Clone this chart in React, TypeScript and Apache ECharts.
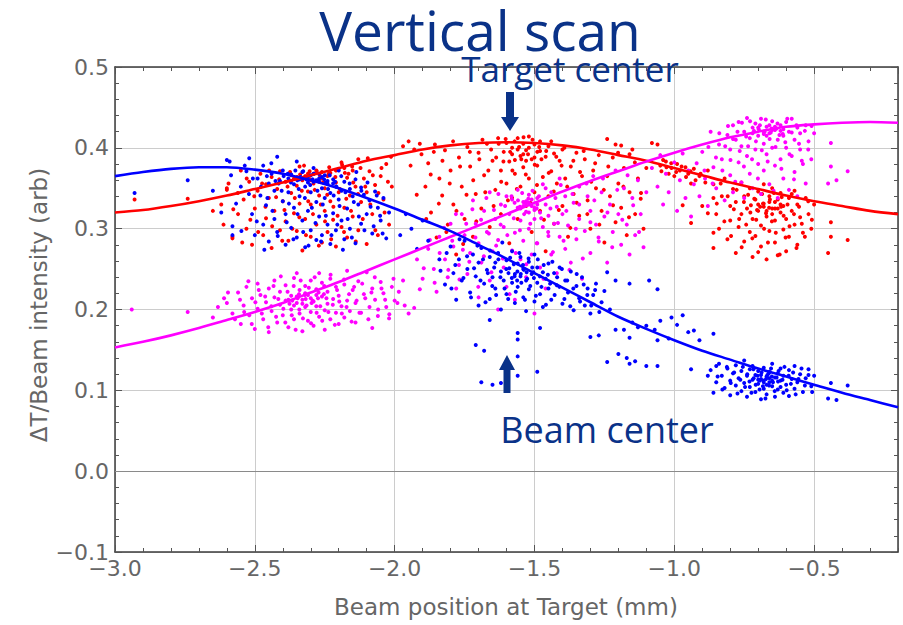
import React, { useEffect, useRef } from "react";
import * as echarts from "echarts";

const X_MIN = -3.0;
const X_MAX = -0.2;
const Y_MIN = -0.1;
const Y_MAX = 0.5;

// Fitted curves, read at every 0.1 mm
const fitX = [
  -3.0, -2.9, -2.8, -2.7, -2.6, -2.5, -2.4, -2.3, -2.2, -2.1, -2.0, -1.9, -1.8, -1.7, -1.6,
  -1.5, -1.4, -1.3, -1.2, -1.1, -1.0, -0.9, -0.8, -0.7, -0.6, -0.5, -0.4, -0.3, -0.2,
];
const redFit = [
  0.320, 0.323, 0.328, 0.334, 0.341, 0.349, 0.357, 0.366, 0.375, 0.384, 0.391, 0.398, 0.403, 0.406, 0.407,
  0.406, 0.403, 0.398, 0.391, 0.384, 0.375, 0.366, 0.357, 0.349, 0.341, 0.334, 0.328, 0.322, 0.318,
];
const blueFit = [
  0.365, 0.370, 0.374, 0.376, 0.376, 0.373, 0.368, 0.360, 0.350, 0.338, 0.325, 0.311, 0.297, 0.280, 0.263,
  0.245, 0.227, 0.209, 0.191, 0.176, 0.162, 0.149, 0.138, 0.127, 0.117, 0.107, 0.097, 0.088, 0.079,
];
const magentaFit = [
  0.153, 0.160, 0.168, 0.177, 0.187, 0.197, 0.208, 0.221, 0.234, 0.248, 0.262, 0.276, 0.290, 0.304, 0.318,
  0.332, 0.346, 0.359, 0.371, 0.383, 0.394, 0.404, 0.413, 0.420, 0.426, 0.429, 0.431, 0.432, 0.431,
];

const blueLeft = [
  [-2.93, 0.344], [-2.74, 0.360], [-2.65, 0.347], [-2.62, 0.320], [-2.58, 0.303], [-2.58, 0.292],
  [-2.60, 0.385], [-2.59, 0.383], [-2.52, 0.387], [-2.55, 0.352], [-2.53, 0.371], [-2.51, 0.318], [-2.50, 0.292],
  [-2.49, 0.362], [-2.48, 0.341], [-2.47, 0.378], [-2.47, 0.305], [-2.46, 0.329], [-2.45, 0.356], [-2.45, 0.284],
  [-2.44, 0.368], [-2.43, 0.312], [-2.43, 0.347], [-2.42, 0.389], [-2.42, 0.296], [-2.41, 0.359], [-2.40, 0.334],
  [-2.40, 0.372], [-2.39, 0.280], [-2.39, 0.318], [-2.38, 0.362], [-2.38, 0.345], [-2.37, 0.301], [-2.37, 0.367],
  [-2.36, 0.326], [-2.36, 0.355], [-2.35, 0.383], [-2.35, 0.289], [-2.34, 0.361], [-2.34, 0.340], [-2.33, 0.310],
  [-2.33, 0.370], [-2.32, 0.352], [-2.32, 0.277], [-2.31, 0.364], [-2.31, 0.322], [-2.30, 0.345], [-2.30, 0.298],
  [-2.29, 0.358], [-2.29, 0.375], [-2.28, 0.333], [-2.28, 0.286], [-2.27, 0.362], [-2.27, 0.315], [-2.26, 0.350],
  [-2.26, 0.292], [-2.25, 0.366], [-2.25, 0.338], [-2.24, 0.305], [-2.24, 0.356], [-2.23, 0.281], [-2.23, 0.344],
  [-2.22, 0.361], [-2.22, 0.319], [-2.21, 0.298], [-2.21, 0.352], [-2.20, 0.336], [-2.20, 0.372], [-2.19, 0.310],
  [-2.19, 0.347], [-2.18, 0.287], [-2.18, 0.358], [-2.17, 0.325], [-2.16, 0.349], [-2.16, 0.300], [-2.15, 0.340],
  [-2.14, 0.361], [-2.14, 0.282], [-2.13, 0.330], [-2.12, 0.351], [-2.12, 0.306], [-2.11, 0.342], [-2.10, 0.318],
  [-2.09, 0.335], [-2.08, 0.294], [-2.07, 0.346], [-2.06, 0.326], [-2.05, 0.310], [-2.04, 0.338], [-2.03, 0.288],
  [-2.02, 0.320], [-2.33, 0.362], [-2.30, 0.366], [-2.28, 0.360], [-2.26, 0.364], [-2.24, 0.359], [-2.31, 0.357],
  [-2.27, 0.368], [-2.22, 0.356], [-1.98, 0.292], [-1.96, 0.318], [-1.94, 0.300], [-1.92, 0.275], [-1.90, 0.310],
  [-1.88, 0.285],
];
const blueLeft2 = [
  [-2.585, 0.366], [-2.567, 0.331], [-2.548, 0.297], [-2.536, 0.378], [-2.521, 0.343], [-2.507, 0.362], [-2.493, 0.309],
  [-2.478, 0.352], [-2.466, 0.274], [-2.455, 0.338], [-2.441, 0.381], [-2.437, 0.322], [-2.426, 0.359], [-2.418, 0.291],
  [-2.404, 0.347], [-2.397, 0.365], [-2.386, 0.308], [-2.378, 0.331], [-2.371, 0.357], [-2.362, 0.287], [-2.355, 0.372],
  [-2.347, 0.318], [-2.343, 0.349], [-2.336, 0.364], [-2.327, 0.296], [-2.321, 0.338], [-2.316, 0.361], [-2.308, 0.279],
  [-2.302, 0.354], [-2.296, 0.326], [-2.289, 0.368], [-2.283, 0.307], [-2.276, 0.347], [-2.271, 0.359], [-2.263, 0.284],
  [-2.257, 0.330], [-2.252, 0.361], [-2.246, 0.316], [-2.238, 0.349], [-2.232, 0.366], [-2.226, 0.292], [-2.218, 0.341],
  [-2.213, 0.358], [-2.205, 0.305], [-2.197, 0.328], [-2.191, 0.365], [-2.185, 0.274], [-2.176, 0.345], [-2.168, 0.312],
  [-2.161, 0.356], [-2.153, 0.289], [-2.146, 0.333], [-2.137, 0.370], [-2.128, 0.315], [-2.119, 0.347], [-2.108, 0.298],
  [-2.097, 0.357], [-2.086, 0.327], [-2.075, 0.303], [-2.064, 0.341], [-2.052, 0.316], [-2.043, 0.294], [-2.457, 0.365],
  [-2.382, 0.368], [-2.348, 0.360], [-2.293, 0.361], [-2.247, 0.357], [-2.208, 0.352], [-2.415, 0.356], [-2.327, 0.371],
];
const blueMid = [
  [-1.84, 0.262], [-1.82, 0.231], [-1.80, 0.278], [-1.79, 0.245], [-1.78, 0.212], [-1.77, 0.262], [-1.76, 0.236],
  [-1.75, 0.285], [-1.74, 0.250], [-1.73, 0.221], [-1.72, 0.268], [-1.71, 0.241], [-1.70, 0.205], [-1.70, 0.258],
  [-1.69, 0.276], [-1.68, 0.232], [-1.67, 0.249], [-1.66, 0.265], [-1.66, 0.213], [-1.65, 0.240], [-1.64, 0.258],
  [-1.64, 0.226], [-1.63, 0.270], [-1.62, 0.247], [-1.62, 0.200], [-1.61, 0.236], [-1.60, 0.261], [-1.60, 0.219],
  [-1.59, 0.251], [-1.58, 0.233], [-1.58, 0.272], [-1.57, 0.244], [-1.57, 0.208], [-1.56, 0.257], [-1.56, 0.228],
  [-1.55, 0.241], [-1.55, 0.265], [-1.54, 0.215], [-1.54, 0.250], [-1.53, 0.236], [-1.53, 0.198], [-1.52, 0.259],
  [-1.52, 0.225], [-1.51, 0.244], [-1.50, 0.210], [-1.50, 0.268], [-1.49, 0.233], [-1.49, 0.252], [-1.48, 0.219],
  [-1.47, 0.246], [-1.47, 0.203], [-1.46, 0.238], [-1.45, 0.257], [-1.45, 0.226], [-1.44, 0.212], [-1.43, 0.245],
  [-1.42, 0.230], [-1.41, 0.252], [-1.40, 0.207], [-1.39, 0.236], [-1.38, 0.221], [-1.37, 0.247], [-1.36, 0.199],
  [-1.35, 0.229], [-1.34, 0.214], [-1.33, 0.240], [-1.32, 0.205], [-1.31, 0.226], [-1.30, 0.195], [-1.29, 0.218],
  [-1.28, 0.232], [-1.26, 0.209], [-1.25, 0.223], [-1.23, 0.200],
  [-1.71, 0.156], [-1.68, 0.149], [-1.69, 0.110], [-1.65, 0.107], [-1.62, 0.109], [-1.56, 0.163], [-1.56, 0.171],
  [-1.56, 0.142], [-1.56, 0.118], [-1.49, 0.123], [-1.48, 0.177], [-1.66, 0.187],
  [-1.24, 0.246], [-1.21, 0.236], [-1.16, 0.232], [-1.09, 0.236], [-1.06, 0.225], [-1.30, 0.166], [-1.27, 0.168],
  [-1.21, 0.175], [-1.18, 0.175], [-1.15, 0.184], [-1.13, 0.178], [-1.10, 0.180], [-1.07, 0.175], [-1.05, 0.186],
  [-1.02, 0.164], [-1.01, 0.190], [-0.99, 0.181], [-0.97, 0.193], [-0.95, 0.172], [-0.93, 0.174], [-0.91, 0.162],
  [-0.86, 0.170], [-1.24, 0.135], [-1.20, 0.145], [-1.17, 0.140], [-1.16, 0.133], [-1.14, 0.136], [-1.10, 0.130],
  [-1.06, 0.130], [-1.16, 0.165], [-0.94, 0.126], [-0.88, 0.118], [-0.85, 0.130], [-1.06, 0.162],
];
const blueMid2 = [
  [-1.836, 0.248], [-1.814, 0.270], [-1.797, 0.226], [-1.783, 0.255], [-1.768, 0.287], [-1.754, 0.239], [-1.741, 0.266],
  [-1.727, 0.215], [-1.716, 0.251], [-1.704, 0.279], [-1.693, 0.236], [-1.684, 0.262], [-1.675, 0.209], [-1.667, 0.245],
  [-1.659, 0.273], [-1.651, 0.229], [-1.644, 0.252], [-1.637, 0.218], [-1.629, 0.262], [-1.622, 0.240], [-1.615, 0.283],
  [-1.607, 0.226], [-1.601, 0.250], [-1.594, 0.213], [-1.587, 0.264], [-1.581, 0.239], [-1.574, 0.256], [-1.567, 0.222],
  [-1.561, 0.247], [-1.554, 0.270], [-1.547, 0.233], [-1.541, 0.255], [-1.534, 0.212], [-1.528, 0.246], [-1.521, 0.263],
  [-1.515, 0.229], [-1.508, 0.252], [-1.502, 0.239], [-1.495, 0.217], [-1.488, 0.262], [-1.481, 0.241], [-1.475, 0.228],
  [-1.467, 0.255], [-1.459, 0.206], [-1.452, 0.243], [-1.444, 0.232], [-1.436, 0.259], [-1.428, 0.218], [-1.419, 0.240],
  [-1.411, 0.228], [-1.402, 0.250], [-1.393, 0.213], [-1.383, 0.236], [-1.372, 0.204], [-1.361, 0.226], [-1.349, 0.244],
  [-1.337, 0.210], [-1.324, 0.231], [-1.311, 0.218], [-1.297, 0.205], [-1.283, 0.224], [-1.268, 0.197], [-1.593, 0.245],
  [-1.571, 0.241], [-1.549, 0.244], [-1.526, 0.238], [-1.504, 0.246], [-1.562, 0.236], [-1.538, 0.249],
];
const blueRight = [
  [-0.87, 0.125], [-0.86, 0.097], [-0.85, 0.110], [-0.84, 0.133], [-0.83, 0.118], [-0.82, 0.103], [-0.81, 0.127],
  [-0.80, 0.112], [-0.80, 0.094], [-0.79, 0.121], [-0.78, 0.106], [-0.78, 0.131], [-0.77, 0.115], [-0.76, 0.099],
  [-0.76, 0.124], [-0.75, 0.109], [-0.75, 0.137], [-0.74, 0.118], [-0.74, 0.092], [-0.73, 0.126], [-0.73, 0.104],
  [-0.72, 0.113], [-0.72, 0.130], [-0.71, 0.098], [-0.71, 0.119], [-0.70, 0.108], [-0.70, 0.124], [-0.69, 0.089],
  [-0.69, 0.114], [-0.68, 0.102], [-0.68, 0.128], [-0.67, 0.117], [-0.67, 0.095], [-0.66, 0.110], [-0.66, 0.123],
  [-0.65, 0.105], [-0.65, 0.133], [-0.64, 0.116], [-0.64, 0.092], [-0.63, 0.121], [-0.63, 0.101], [-0.62, 0.112],
  [-0.62, 0.127], [-0.61, 0.097], [-0.61, 0.118], [-0.60, 0.107], [-0.59, 0.125], [-0.59, 0.093], [-0.58, 0.114],
  [-0.57, 0.102], [-0.57, 0.130], [-0.56, 0.110], [-0.55, 0.120], [-0.54, 0.098], [-0.53, 0.115], [-0.52, 0.126],
  [-0.51, 0.105], [-0.50, 0.118], [-0.70, 0.113], [-0.68, 0.110], [-0.66, 0.115], [-0.69, 0.119], [-0.67, 0.107],
  [-0.65, 0.112], [-0.44, 0.109], [-0.38, 0.106], [-0.45, 0.090], [-0.42, 0.088],
];
const blueRight2 = [
  [-0.845, 0.117], [-0.828, 0.101], [-0.812, 0.129], [-0.798, 0.109], [-0.786, 0.122], [-0.774, 0.096], [-0.764, 0.113],
  [-0.755, 0.129], [-0.747, 0.104], [-0.739, 0.120], [-0.731, 0.111], [-0.724, 0.097], [-0.717, 0.126], [-0.709, 0.107],
  [-0.702, 0.118], [-0.695, 0.101], [-0.688, 0.122], [-0.681, 0.112], [-0.674, 0.090], [-0.667, 0.119], [-0.661, 0.106],
  [-0.654, 0.127], [-0.647, 0.110], [-0.641, 0.099], [-0.634, 0.116], [-0.627, 0.124], [-0.620, 0.104], [-0.613, 0.113],
  [-0.606, 0.129], [-0.598, 0.100], [-0.591, 0.118], [-0.583, 0.108], [-0.575, 0.122], [-0.566, 0.095], [-0.556, 0.114],
  [-0.545, 0.127], [-0.533, 0.106], [-0.520, 0.119], [-0.507, 0.098], [-0.716, 0.115], [-0.694, 0.112], [-0.672, 0.114],
  [-0.651, 0.117], [-0.629, 0.111], [-0.683, 0.105], [-0.662, 0.121],
];

const redLeft = [
  [-2.93, 0.336], [-2.74, 0.337], [-2.65, 0.322], [-2.60, 0.348], [-2.58, 0.288],
  [-2.62, 0.330], [-2.60, 0.350], [-2.58, 0.290], [-2.56, 0.318], [-2.55, 0.372], [-2.54, 0.336], [-2.53, 0.300],
  [-2.52, 0.358], [-2.51, 0.280], [-2.50, 0.325], [-2.49, 0.347], [-2.48, 0.368], [-2.47, 0.292], [-2.46, 0.313],
  [-2.46, 0.355], [-2.45, 0.338], [-2.44, 0.276], [-2.44, 0.364], [-2.43, 0.322], [-2.42, 0.349], [-2.41, 0.298],
  [-2.41, 0.371], [-2.40, 0.334], [-2.39, 0.309], [-2.39, 0.358], [-2.38, 0.285], [-2.37, 0.344], [-2.37, 0.366],
  [-2.36, 0.319], [-2.35, 0.353], [-2.35, 0.297], [-2.34, 0.377], [-2.34, 0.331], [-2.33, 0.273], [-2.33, 0.360],
  [-2.32, 0.312], [-2.31, 0.346], [-2.31, 0.368], [-2.30, 0.290], [-2.30, 0.330], [-2.29, 0.356], [-2.28, 0.305],
  [-2.28, 0.372], [-2.27, 0.341], [-2.26, 0.283], [-2.26, 0.362], [-2.25, 0.322], [-2.25, 0.350], [-2.24, 0.296],
  [-2.23, 0.369], [-2.23, 0.334], [-2.22, 0.311], [-2.21, 0.357], [-2.21, 0.278], [-2.20, 0.345], [-2.19, 0.382],
  [-2.19, 0.302], [-2.18, 0.326], [-2.17, 0.363], [-2.17, 0.289], [-2.16, 0.341], [-2.15, 0.372], [-2.15, 0.315],
  [-2.14, 0.352], [-2.13, 0.298], [-2.13, 0.386], [-2.12, 0.333], [-2.11, 0.362], [-2.10, 0.281], [-2.10, 0.345],
  [-2.09, 0.371], [-2.08, 0.318], [-2.07, 0.354], [-2.06, 0.292], [-2.05, 0.365], [-2.04, 0.336], [-2.03, 0.380],
  [-2.02, 0.305], [-2.01, 0.352], [-2.36, 0.362], [-2.32, 0.365], [-2.29, 0.368], [-2.26, 0.370], [-2.24, 0.365],
  [-2.21, 0.372], [-2.18, 0.375], [-2.30, 0.360], [-2.27, 0.358],
];
const redLeft2 = [
  [-2.612, 0.305], [-2.594, 0.356], [-2.577, 0.324], [-2.561, 0.344], [-2.545, 0.283], [-2.529, 0.362], [-2.516, 0.311],
  [-2.502, 0.340], [-2.488, 0.296], [-2.474, 0.356], [-2.462, 0.327], [-2.449, 0.372], [-2.438, 0.303], [-2.424, 0.339],
  [-2.413, 0.361], [-2.402, 0.285], [-2.394, 0.323], [-2.383, 0.352], [-2.374, 0.370], [-2.366, 0.300], [-2.357, 0.338],
  [-2.349, 0.364], [-2.341, 0.314], [-2.332, 0.347], [-2.324, 0.378], [-2.317, 0.292], [-2.309, 0.334], [-2.301, 0.361],
  [-2.292, 0.318], [-2.286, 0.348], [-2.279, 0.371], [-2.271, 0.279], [-2.264, 0.330], [-2.256, 0.357], [-2.249, 0.309],
  [-2.241, 0.342], [-2.234, 0.376], [-2.227, 0.287], [-2.219, 0.327], [-2.212, 0.364], [-2.204, 0.316], [-2.196, 0.349],
  [-2.188, 0.379], [-2.181, 0.296], [-2.173, 0.337], [-2.165, 0.368], [-2.156, 0.322], [-2.148, 0.357], [-2.139, 0.284],
  [-2.131, 0.343], [-2.122, 0.375], [-2.114, 0.312], [-2.105, 0.352], [-2.096, 0.387], [-2.087, 0.330], [-2.078, 0.366],
  [-2.069, 0.298], [-2.058, 0.344], [-2.047, 0.375], [-2.036, 0.320], [-2.024, 0.358], [-2.013, 0.389], [-2.371, 0.359],
  [-2.338, 0.367], [-2.304, 0.371], [-2.268, 0.366], [-2.236, 0.368], [-2.201, 0.373], [-2.178, 0.369], [-2.152, 0.377],
];
const redMid = [
  [-1.97, 0.402], [-1.95, 0.408], [-1.93, 0.398], [-1.91, 0.405], [-1.89, 0.352], [-1.88, 0.381], [-1.87, 0.320],
  [-1.86, 0.395], [-1.85, 0.289], [-1.84, 0.362], [-1.83, 0.341], [-1.82, 0.397], [-1.81, 0.305], [-1.80, 0.372],
  [-1.79, 0.330], [-1.78, 0.268], [-1.77, 0.388], [-1.76, 0.352], [-1.75, 0.312], [-1.74, 0.401], [-1.73, 0.377],
  [-1.72, 0.290], [-1.71, 0.343], [-1.70, 0.394], [-1.69, 0.325], [-1.68, 0.366], [-1.67, 0.405], [-1.66, 0.302],
  [-1.65, 0.384], [-1.64, 0.348], [-1.63, 0.412], [-1.62, 0.372], [-1.62, 0.318], [-1.61, 0.395], [-1.60, 0.356],
  [-1.60, 0.406], [-1.59, 0.282], [-1.59, 0.383], [-1.58, 0.338], [-1.58, 0.400], [-1.57, 0.368], [-1.56, 0.412],
  [-1.56, 0.312], [-1.55, 0.390], [-1.55, 0.352], [-1.54, 0.405], [-1.54, 0.376], [-1.53, 0.328], [-1.53, 0.397],
  [-1.52, 0.362], [-1.52, 0.414], [-1.51, 0.386], [-1.51, 0.296], [-1.50, 0.404], [-1.50, 0.345], [-1.49, 0.378],
  [-1.49, 0.395], [-1.48, 0.322], [-1.48, 0.408], [-1.47, 0.364], [-1.46, 0.389], [-1.46, 0.272], [-1.45, 0.402],
  [-1.45, 0.340], [-1.44, 0.371], [-1.43, 0.393], [-1.43, 0.306], [-1.42, 0.356], [-1.41, 0.384], [-1.40, 0.328],
  [-1.40, 0.398], [-1.39, 0.362], [-1.38, 0.290], [-1.37, 0.377], [-1.36, 0.343], [-1.35, 0.394], [-1.34, 0.316],
  [-1.33, 0.365], [-1.32, 0.386], [-1.31, 0.335], [-1.30, 0.300], [-1.29, 0.372], [-1.28, 0.350], [-1.27, 0.391],
  [-1.26, 0.322], [-1.25, 0.283], [-1.24, 0.365], [-1.23, 0.340], [-1.22, 0.388], [-1.21, 0.308], [-1.20, 0.356],
  [-1.19, 0.326], [-1.18, 0.375], [-1.17, 0.292], [-1.16, 0.345], [-1.15, 0.398], [-1.14, 0.318], [-1.13, 0.362],
  [-1.12, 0.337], [-1.11, 0.300], [-1.10, 0.375], [-1.58, 0.392], [-1.56, 0.398], [-1.54, 0.392], [-1.52, 0.400],
  [-1.50, 0.388], [-1.48, 0.396], [-1.53, 0.384], [-1.57, 0.385], [-1.24, 0.411], [-1.21, 0.404], [-1.19, 0.403],
  [-1.16, 0.392], [-1.08, 0.406], [-1.06, 0.404], [-1.04, 0.385], [-1.02, 0.368], [-0.97, 0.329], [-0.94, 0.307],
  [-0.94, 0.356], [-0.90, 0.328], [-0.88, 0.319], [-0.86, 0.338], [-0.86, 0.295], [-0.86, 0.276],
];
const redMid2 = [
  [-1.943, 0.378], [-1.921, 0.342], [-1.904, 0.392], [-1.887, 0.312], [-1.871, 0.367], [-1.856, 0.404], [-1.842, 0.331],
  [-1.829, 0.384], [-1.815, 0.296], [-1.803, 0.356], [-1.791, 0.408], [-1.779, 0.322], [-1.766, 0.377], [-1.755, 0.281],
  [-1.743, 0.342], [-1.731, 0.395], [-1.719, 0.360], [-1.708, 0.309], [-1.697, 0.386], [-1.686, 0.410], [-1.676, 0.345],
  [-1.665, 0.372], [-1.655, 0.398], [-1.646, 0.328], [-1.637, 0.388], [-1.628, 0.405], [-1.619, 0.358], [-1.611, 0.383],
  [-1.603, 0.411], [-1.595, 0.335], [-1.587, 0.395], [-1.579, 0.372], [-1.571, 0.408], [-1.563, 0.349], [-1.555, 0.401],
  [-1.547, 0.386], [-1.539, 0.413], [-1.531, 0.367], [-1.523, 0.392], [-1.515, 0.332], [-1.507, 0.410], [-1.499, 0.379],
  [-1.491, 0.354], [-1.483, 0.401], [-1.475, 0.386], [-1.466, 0.311], [-1.458, 0.396], [-1.449, 0.369], [-1.440, 0.408],
  [-1.431, 0.346], [-1.422, 0.389], [-1.413, 0.323], [-1.403, 0.378], [-1.393, 0.400], [-1.383, 0.352], [-1.372, 0.301],
  [-1.361, 0.384], [-1.349, 0.332], [-1.337, 0.370], [-1.324, 0.396], [-1.311, 0.318], [-1.297, 0.358], [-1.283, 0.381],
  [-1.268, 0.305], [-1.252, 0.348], [-1.236, 0.377], [-1.219, 0.329], [-1.201, 0.394], [-1.182, 0.352], [-1.162, 0.314],
  [-1.141, 0.382], [-1.119, 0.344],
];
const redRight = [
  [-0.88, 0.372], [-0.86, 0.355], [-0.85, 0.318], [-0.84, 0.300], [-0.83, 0.340], [-0.82, 0.362], [-0.81, 0.287],
  [-0.80, 0.328], [-0.80, 0.310], [-0.79, 0.349], [-0.78, 0.270], [-0.78, 0.333], [-0.77, 0.302], [-0.76, 0.357],
  [-0.76, 0.318], [-0.75, 0.284], [-0.75, 0.340], [-0.74, 0.325], [-0.73, 0.296], [-0.73, 0.350], [-0.72, 0.312],
  [-0.72, 0.265], [-0.71, 0.336], [-0.71, 0.291], [-0.70, 0.322], [-0.70, 0.346], [-0.69, 0.304], [-0.69, 0.278],
  [-0.68, 0.331], [-0.68, 0.355], [-0.67, 0.315], [-0.67, 0.262], [-0.66, 0.340], [-0.66, 0.297], [-0.65, 0.325],
  [-0.65, 0.350], [-0.64, 0.283], [-0.64, 0.310], [-0.63, 0.336], [-0.63, 0.267], [-0.62, 0.320], [-0.62, 0.344],
  [-0.61, 0.299], [-0.61, 0.328], [-0.60, 0.312], [-0.60, 0.272], [-0.59, 0.338], [-0.59, 0.290], [-0.58, 0.322],
  [-0.57, 0.305], [-0.57, 0.347], [-0.56, 0.280], [-0.56, 0.330], [-0.55, 0.314], [-0.54, 0.295], [-0.53, 0.338],
  [-0.52, 0.318], [-0.51, 0.300], [-0.50, 0.330], [-0.70, 0.330], [-0.68, 0.327], [-0.66, 0.333], [-0.64, 0.325],
  [-0.62, 0.330], [-0.67, 0.322], [-0.65, 0.318], [-1.05, 0.378], [-1.03, 0.383], [-1.01, 0.375], [-0.99, 0.380],
  [-0.98, 0.372], [-0.96, 0.376], [-0.95, 0.368], [-0.93, 0.374], [-0.91, 0.365], [-1.00, 0.365], [-0.44, 0.308],
  [-0.44, 0.290], [-0.45, 0.270], [-0.38, 0.286],
];
const redRight2 = [
  [-0.848, 0.331], [-0.834, 0.356], [-0.821, 0.309], [-0.809, 0.340], [-0.797, 0.291], [-0.787, 0.324], [-0.777, 0.348],
  [-0.768, 0.312], [-0.759, 0.277], [-0.751, 0.333], [-0.743, 0.305], [-0.736, 0.342], [-0.728, 0.320], [-0.721, 0.288],
  [-0.714, 0.337], [-0.707, 0.311], [-0.700, 0.271], [-0.693, 0.327], [-0.686, 0.343], [-0.679, 0.300], [-0.672, 0.319],
  [-0.665, 0.283], [-0.658, 0.336], [-0.651, 0.309], [-0.644, 0.344], [-0.637, 0.295], [-0.630, 0.325], [-0.623, 0.268],
  [-0.616, 0.339], [-0.609, 0.316], [-0.602, 0.289], [-0.595, 0.330], [-0.588, 0.303], [-0.580, 0.343], [-0.572, 0.318],
  [-0.563, 0.276], [-0.554, 0.327], [-0.544, 0.306], [-0.533, 0.290], [-0.521, 0.334], [-0.508, 0.311], [-0.726, 0.329],
  [-0.704, 0.323], [-0.683, 0.331], [-0.661, 0.326], [-0.640, 0.333], [-0.618, 0.327], [-1.046, 0.371], [-1.028, 0.376],
  [-1.011, 0.381], [-0.993, 0.370], [-0.974, 0.377], [-0.958, 0.364], [-0.942, 0.371], [-0.924, 0.360], [-0.906, 0.368],
  [-0.889, 0.357],
];

const magentaLeft = [
  [-2.94, 0.200], [-2.74, 0.197], [-2.65, 0.190], [-2.61, 0.214], [-2.60, 0.208], [-2.58, 0.195], [-2.56, 0.221],
  [-2.55, 0.182], [-2.54, 0.205], [-2.53, 0.228], [-2.52, 0.193], [-2.51, 0.214], [-2.50, 0.176], [-2.49, 0.232],
  [-2.49, 0.201], [-2.48, 0.218], [-2.47, 0.188], [-2.46, 0.209], [-2.45, 0.226], [-2.45, 0.172], [-2.44, 0.198],
  [-2.43, 0.215], [-2.43, 0.236], [-2.42, 0.184], [-2.41, 0.206], [-2.41, 0.222], [-2.40, 0.193], [-2.39, 0.211],
  [-2.39, 0.230], [-2.38, 0.178], [-2.37, 0.200], [-2.37, 0.217], [-2.36, 0.239], [-2.36, 0.188], [-2.35, 0.208],
  [-2.35, 0.245], [-2.34, 0.224], [-2.34, 0.195], [-2.33, 0.173], [-2.33, 0.212], [-2.32, 0.229], [-2.32, 0.203],
  [-2.31, 0.186], [-2.31, 0.218], [-2.30, 0.236], [-2.30, 0.197], [-2.29, 0.210], [-2.29, 0.180], [-2.28, 0.225],
  [-2.28, 0.204], [-2.27, 0.191], [-2.27, 0.245], [-2.26, 0.216], [-2.26, 0.233], [-2.25, 0.199], [-2.25, 0.175],
  [-2.24, 0.222], [-2.24, 0.207], [-2.23, 0.188], [-2.23, 0.238], [-2.22, 0.213], [-2.21, 0.196], [-2.21, 0.228],
  [-2.20, 0.182], [-2.20, 0.217], [-2.19, 0.204], [-2.18, 0.231], [-2.18, 0.190], [-2.17, 0.248], [-2.17, 0.211],
  [-2.16, 0.198], [-2.15, 0.224], [-2.14, 0.184], [-2.14, 0.208], [-2.13, 0.235], [-2.12, 0.196], [-2.11, 0.219],
  [-2.10, 0.246], [-2.09, 0.203], [-2.08, 0.177], [-2.08, 0.226], [-2.07, 0.212], [-2.06, 0.192], [-2.05, 0.234],
  [-2.04, 0.220], [-2.03, 0.203], [-2.02, 0.189], [-2.01, 0.228], [-2.00, 0.211], [-1.99, 0.208], [-1.97, 0.236],
  [-1.95, 0.195], [-1.93, 0.202], [-1.91, 0.225], [-2.38, 0.212], [-2.35, 0.216], [-2.33, 0.207], [-2.30, 0.214],
  [-2.28, 0.218], [-2.32, 0.220], [-2.36, 0.205],
];
const magentaLeft2 = [
  [-2.632, 0.203], [-2.596, 0.221], [-2.571, 0.188], [-2.553, 0.212], [-2.538, 0.197], [-2.523, 0.235], [-2.511, 0.182],
  [-2.498, 0.209], [-2.486, 0.224], [-2.475, 0.195], [-2.463, 0.216], [-2.452, 0.178], [-2.441, 0.204], [-2.433, 0.229],
  [-2.424, 0.191], [-2.416, 0.213], [-2.407, 0.241], [-2.398, 0.201], [-2.391, 0.184], [-2.383, 0.222], [-2.376, 0.207],
  [-2.368, 0.193], [-2.361, 0.229], [-2.354, 0.175], [-2.347, 0.214], [-2.341, 0.200], [-2.336, 0.236], [-2.328, 0.189],
  [-2.321, 0.218], [-2.315, 0.205], [-2.307, 0.227], [-2.299, 0.183], [-2.293, 0.211], [-2.286, 0.240], [-2.279, 0.196],
  [-2.272, 0.221], [-2.266, 0.204], [-2.259, 0.186], [-2.252, 0.229], [-2.244, 0.214], [-2.237, 0.197], [-2.229, 0.243],
  [-2.221, 0.206], [-2.214, 0.181], [-2.206, 0.224], [-2.198, 0.210], [-2.189, 0.195], [-2.181, 0.237], [-2.172, 0.203],
  [-2.163, 0.219], [-2.154, 0.185], [-2.145, 0.228], [-2.136, 0.211], [-2.126, 0.196], [-2.116, 0.232], [-2.105, 0.214],
  [-2.094, 0.188], [-2.083, 0.221], [-2.071, 0.240], [-2.059, 0.200], [-2.047, 0.226], [-2.034, 0.212], [-2.019, 0.194],
  [-2.004, 0.238], [-1.985, 0.222], [-1.964, 0.205], [-2.366, 0.211], [-2.342, 0.219], [-2.318, 0.213], [-2.297, 0.208],
  [-2.274, 0.214], [-2.253, 0.219],
];
const magentaMid = [
  [-1.92, 0.262], [-1.90, 0.238], [-1.88, 0.275], [-1.86, 0.250], [-1.85, 0.222], [-1.84, 0.290], [-1.82, 0.262],
  [-1.81, 0.240], [-1.80, 0.306], [-1.79, 0.278], [-1.78, 0.226], [-1.77, 0.255], [-1.76, 0.318], [-1.75, 0.292],
  [-1.74, 0.244], [-1.73, 0.270], [-1.72, 0.335], [-1.71, 0.306], [-1.70, 0.215], [-1.70, 0.282], [-1.69, 0.258],
  [-1.68, 0.322], [-1.67, 0.296], [-1.66, 0.236], [-1.66, 0.345], [-1.65, 0.272], [-1.64, 0.312], [-1.63, 0.200],
  [-1.63, 0.286], [-1.62, 0.330], [-1.61, 0.252], [-1.61, 0.302], [-1.60, 0.340], [-1.60, 0.228], [-1.59, 0.318],
  [-1.58, 0.273], [-1.58, 0.336], [-1.57, 0.295], [-1.57, 0.212], [-1.56, 0.326], [-1.56, 0.348], [-1.55, 0.262],
  [-1.55, 0.310], [-1.54, 0.333], [-1.54, 0.285], [-1.53, 0.240], [-1.53, 0.321], [-1.52, 0.342], [-1.52, 0.300],
  [-1.51, 0.268], [-1.51, 0.328], [-1.50, 0.312], [-1.50, 0.195], [-1.49, 0.338], [-1.49, 0.282], [-1.48, 0.320],
  [-1.48, 0.252], [-1.47, 0.355], [-1.47, 0.302], [-1.46, 0.330], [-1.46, 0.226], [-1.45, 0.291], [-1.45, 0.316],
  [-1.44, 0.345], [-1.44, 0.268], [-1.43, 0.306], [-1.42, 0.327], [-1.42, 0.245], [-1.41, 0.362], [-1.41, 0.290],
  [-1.40, 0.318], [-1.39, 0.275], [-1.39, 0.340], [-1.38, 0.304], [-1.37, 0.258], [-1.36, 0.332], [-1.35, 0.287],
  [-1.34, 0.352], [-1.34, 0.312], [-1.33, 0.238], [-1.32, 0.297], [-1.31, 0.340], [-1.30, 0.322], [-1.30, 0.270],
  [-1.29, 0.365], [-1.28, 0.305], [-1.27, 0.284], [-1.26, 0.345], [-1.25, 0.315], [-1.24, 0.258], [-1.23, 0.330],
  [-1.22, 0.296], [-1.21, 0.372], [-1.20, 0.318], [-1.19, 0.280], [-1.18, 0.350], [-1.17, 0.305], [-1.16, 0.268],
  [-1.15, 0.338], [-1.14, 0.292], [-1.13, 0.360], [-1.12, 0.318], [-1.11, 0.277], [-1.10, 0.345], [-1.54, 0.328],
  [-1.52, 0.332], [-1.50, 0.326], [-1.51, 0.336], [-1.53, 0.334], [-1.49, 0.330], [-1.55, 0.325], [-1.52, 0.320],
];
const magentaMid2 = [
  [-1.896, 0.251], [-1.874, 0.286], [-1.857, 0.233], [-1.839, 0.270], [-1.823, 0.301], [-1.808, 0.249], [-1.794, 0.285],
  [-1.781, 0.318], [-1.768, 0.237], [-1.756, 0.274], [-1.744, 0.306], [-1.733, 0.259], [-1.722, 0.324], [-1.711, 0.289],
  [-1.701, 0.228], [-1.691, 0.311], [-1.681, 0.266], [-1.672, 0.338], [-1.663, 0.294], [-1.654, 0.246], [-1.645, 0.323],
  [-1.637, 0.279], [-1.629, 0.343], [-1.621, 0.305], [-1.613, 0.263], [-1.605, 0.328], [-1.597, 0.292], [-1.589, 0.219],
  [-1.582, 0.340], [-1.574, 0.313], [-1.567, 0.270], [-1.559, 0.335], [-1.552, 0.298], [-1.544, 0.344], [-1.537, 0.318],
  [-1.529, 0.256], [-1.522, 0.337], [-1.515, 0.306], [-1.507, 0.347], [-1.500, 0.323], [-1.492, 0.282], [-1.484, 0.340],
  [-1.476, 0.313], [-1.468, 0.238], [-1.460, 0.350], [-1.451, 0.296], [-1.443, 0.325], [-1.434, 0.271], [-1.425, 0.338],
  [-1.416, 0.307], [-1.406, 0.354], [-1.396, 0.285], [-1.386, 0.322], [-1.375, 0.249], [-1.364, 0.343], [-1.352, 0.300],
  [-1.340, 0.330], [-1.327, 0.263], [-1.314, 0.356], [-1.300, 0.308], [-1.286, 0.335], [-1.271, 0.289], [-1.255, 0.362],
  [-1.239, 0.320], [-1.222, 0.277], [-1.204, 0.348], [-1.186, 0.311], [-1.167, 0.366], [-1.147, 0.329], [-1.126, 0.296],
  [-1.552, 0.327], [-1.531, 0.331], [-1.511, 0.329], [-1.492, 0.325], [-1.571, 0.332],
];
const magentaRight = [
  [-1.08, 0.375], [-1.06, 0.352], [-1.05, 0.391], [-1.04, 0.330], [-1.03, 0.368], [-1.02, 0.345], [-1.00, 0.382],
  [-0.99, 0.322], [-0.98, 0.360], [-0.97, 0.393], [-0.96, 0.338], [-0.95, 0.372], [-0.94, 0.315], [-0.93, 0.355],
  [-0.92, 0.381], [-0.91, 0.340], [-0.90, 0.395], [-0.89, 0.362], [-0.88, 0.328], [-0.87, 0.420], [-0.86, 0.376],
  [-0.85, 0.350], [-0.84, 0.404], [-0.83, 0.386], [-0.82, 0.335], [-0.81, 0.416], [-0.80, 0.366], [-0.80, 0.398],
  [-0.79, 0.428], [-0.79, 0.345], [-0.78, 0.410], [-0.77, 0.382], [-0.77, 0.432], [-0.76, 0.357], [-0.76, 0.402],
  [-0.75, 0.420], [-0.75, 0.338], [-0.74, 0.390], [-0.74, 0.437], [-0.73, 0.412], [-0.73, 0.368], [-0.72, 0.425],
  [-0.72, 0.350], [-0.71, 0.398], [-0.71, 0.430], [-0.70, 0.380], [-0.70, 0.415], [-0.69, 0.343], [-0.69, 0.436],
  [-0.68, 0.405], [-0.68, 0.372], [-0.67, 0.426], [-0.67, 0.392], [-0.66, 0.418], [-0.66, 0.355], [-0.65, 0.433],
  [-0.65, 0.400], [-0.64, 0.378], [-0.64, 0.422], [-0.63, 0.410], [-0.63, 0.338], [-0.62, 0.428], [-0.62, 0.386],
  [-0.61, 0.415], [-0.61, 0.362], [-0.60, 0.432], [-0.60, 0.400], [-0.59, 0.348], [-0.59, 0.420], [-0.58, 0.390],
  [-0.58, 0.436], [-0.57, 0.410], [-0.57, 0.370], [-0.56, 0.425], [-0.56, 0.340], [-0.55, 0.398], [-0.55, 0.418],
  [-0.54, 0.380], [-0.53, 0.428], [-0.53, 0.356], [-0.52, 0.408], [-0.51, 0.386], [-0.50, 0.418], [-0.70, 0.425],
  [-0.68, 0.420], [-0.66, 0.428], [-0.64, 0.426], [-0.62, 0.421], [-0.67, 0.415], [-0.65, 0.422], [-0.44, 0.406],
  [-0.44, 0.377], [-0.45, 0.356], [-0.42, 0.360], [-0.38, 0.371],
];
const magentaRight2 = [
  [-0.892, 0.372], [-0.878, 0.401], [-0.863, 0.356], [-0.851, 0.388], [-0.839, 0.418], [-0.828, 0.372], [-0.818, 0.402],
  [-0.808, 0.427], [-0.799, 0.385], [-0.790, 0.411], [-0.782, 0.358], [-0.774, 0.420], [-0.766, 0.396], [-0.758, 0.431],
  [-0.751, 0.377], [-0.743, 0.414], [-0.736, 0.402], [-0.729, 0.433], [-0.722, 0.386], [-0.715, 0.421], [-0.708, 0.408],
  [-0.701, 0.362], [-0.694, 0.428], [-0.687, 0.397], [-0.680, 0.417], [-0.673, 0.435], [-0.666, 0.383], [-0.659, 0.411],
  [-0.652, 0.424], [-0.645, 0.347], [-0.638, 0.401], [-0.631, 0.430], [-0.624, 0.416], [-0.617, 0.374], [-0.610, 0.423],
  [-0.603, 0.407], [-0.596, 0.436], [-0.588, 0.392], [-0.580, 0.419], [-0.572, 0.361], [-0.563, 0.428], [-0.554, 0.405],
  [-0.544, 0.384], [-0.533, 0.421], [-0.521, 0.398], [-0.509, 0.427], [-0.720, 0.418], [-0.698, 0.423], [-0.677, 0.420],
  [-0.655, 0.419], [-0.634, 0.424], [-0.612, 0.417],
];

const redPoints = [...redLeft, ...redLeft2, ...redMid, ...redMid2, ...redRight, ...redRight2];
const magentaPoints = [...magentaLeft, ...magentaLeft2, ...magentaMid, ...magentaMid2, ...magentaRight, ...magentaRight2];
const bluePoints = [...blueLeft, ...blueLeft2, ...blueMid, ...blueMid2, ...blueRight, ...blueRight2];

const TITLE = "Vertical scan";
const X_TITLE = "Beam position at Target (mm)";
const Y_TITLE = "\u0394T/Beam intensity (arb)";
const TARGET_NOTE = "Target center";
const BEAM_NOTE = "Beam center";

const NAVY = "#0a3288";
const AXIS_FONT = "'DejaVu Sans', 'Liberation Sans', sans-serif";
const NOTE_FONT = "'Open Sans', 'Noto Sans', sans-serif";

const fmt = (v: number) => {
  if (Math.abs(v) < 1e-9) return "0.0";
  return (v < 0 ? "\u2212" : "") + Math.abs(v).toFixed(1);
};

const zip = (xs: number[], ys: number[]) => xs.map((x, i) => [x, ys[i]]);

function makeX(position: "bottom" | "top", interval: number, major: boolean, labels: boolean) {
  return {
    type: "value",
    position,
    min: X_MIN,
    max: X_MAX,
    interval,
    axisLine: { show: major, onZero: false, lineStyle: { color: "#3c3c3c", width: 1.5 } },
    axisTick: { show: true, inside: true, length: major ? 7 : 4, lineStyle: { color: "#555", width: 1 } },
    axisLabel: labels
      ? {
          show: true,
          formatter: fmt,
          fontSize: 22,
          lineHeight: 17,
          color: "#666",
          fontFamily: AXIS_FONT,
          margin: 8,
          showMaxLabel: false,
        }
      : { show: false },
    splitLine: { show: labels, lineStyle: { color: "#cccccc", width: 1 } },
  };
}

function makeY(position: "left" | "right", interval: number, major: boolean, labels: boolean) {
  return {
    type: "value",
    position,
    min: Y_MIN,
    max: Y_MAX,
    interval,
    axisLine: { show: major, onZero: false, lineStyle: { color: "#3c3c3c", width: 1.5 } },
    axisTick: { show: true, inside: true, length: major ? 7 : 4, lineStyle: { color: "#555", width: 1 } },
    axisLabel: labels
      ? { show: true, formatter: fmt, fontSize: 22, lineHeight: 17, color: "#666", fontFamily: AXIS_FONT, margin: 6 }
      : { show: false },
    splitLine: { show: labels, lineStyle: { color: "#cccccc", width: 1 } },
  };
}

const scatter = (data: number[][], color: string) => ({
  type: "scatter",
  data,
  symbol: "circle",
  symbolSize: 4,
  itemStyle: { color, opacity: 1 },
  xAxisIndex: 0,
  yAxisIndex: 0,
  silent: true,
  large: false,
});

const fitLine = (ys: number[], color: string, extra: any = {}) => ({
  type: "line",
  data: zip(fitX, ys),
  smooth: 0.3,
  symbol: "none",
  showSymbol: false,
  lineStyle: { color, width: 2.6 },
  xAxisIndex: 0,
  yAxisIndex: 0,
  silent: true,
  ...extra,
});

export default function App() {
  const ref = useRef<HTMLDivElement>(null);
  useEffect(() => {
    if (!ref.current) return;
    const chart = echarts.init(ref.current, undefined, { renderer: "svg" });
    const option: any = {
      animation: false,
      backgroundColor: "#ffffff",
      grid: { left: 115, top: 67, right: 5, bottom: 73, containLabel: false },
      xAxis: [
        makeX("bottom", 0.5, true, true),
        makeX("bottom", 0.1, false, false),
        makeX("top", 0.5, true, false),
        makeX("top", 0.1, false, false),
      ],
      yAxis: [
        makeY("left", 0.1, true, true),
        makeY("left", 0.02, false, false),
        makeY("right", 0.1, true, false),
        makeY("right", 0.02, false, false),
      ],
      series: [
        scatter(redPoints, "#ff0000"),
        scatter(magentaPoints, "#ff00ff"),
        scatter(bluePoints, "#0000ff"),
        fitLine(redFit, "#ff0000", {
          markLine: {
            silent: true,
            symbol: "none",
            label: { show: false },
            lineStyle: { color: "#8a8a8a", width: 1, type: "solid" },
            data: [{ yAxis: 0 }],
          },
        }),
        fitLine(magentaFit, "#ff00ff"),
        fitLine(blueFit, "#0000ff"),
      ],
      graphic: [
        {
          type: "text",
          x: 480,
          y: 29,
          style: {
            text: TITLE,
            fill: NAVY,
            font: `55px ${NOTE_FONT}`,
            lineHeight: 44,
            align: "center",
            verticalAlign: "middle",
          },
          z: 100,
        },
        {
          type: "text",
          x: 570,
          y: 68,
          style: {
            text: TARGET_NOTE,
            fill: NAVY,
            font: `35px ${NOTE_FONT}`,
            lineHeight: 28,
            align: "center",
            verticalAlign: "middle",
          },
          z: 100,
        },
        {
          type: "text",
          x: 607,
          y: 429,
          style: {
            text: BEAM_NOTE,
            fill: NAVY,
            font: `36px ${NOTE_FONT}`,
            lineHeight: 30,
            align: "center",
            verticalAlign: "middle",
          },
          z: 100,
        },
        {
          type: "polygon",
          shape: { points: [[506, 92], [514, 92], [514, 117], [519, 117], [510, 131], [501, 117], [506, 117]] },
          style: { fill: NAVY },
          z: 100,
        },
        {
          type: "polygon",
          shape: { points: [[507, 355], [515, 370], [510.5, 370], [510.5, 393], [503.5, 393], [503.5, 370], [499, 370]] },
          style: { fill: NAVY },
          z: 100,
        },
        {
          type: "text",
          x: 506,
          y: 607,
          style: {
            text: X_TITLE,
            fill: "#666",
            font: `23px ${AXIS_FONT}`,
            lineHeight: 22,
            align: "center",
            verticalAlign: "middle",
          },
          z: 100,
        },
        {
          type: "text",
          x: 39,
          y: 305,
          rotation: Math.PI / 2,
          style: {
            text: Y_TITLE,
            fill: "#666",
            font: `23px ${AXIS_FONT}`,
            lineHeight: 22,
            align: "center",
            verticalAlign: "middle",
          },
          z: 100,
        },
      ],
    };
    chart.setOption(option);
    return () => chart.dispose();
  }, []);
  return (
    <div
      ref={ref}
      style={{ position: "fixed", left: 0, top: 0, width: 903, height: 625, background: "#fff" }}
    />
  );
}
